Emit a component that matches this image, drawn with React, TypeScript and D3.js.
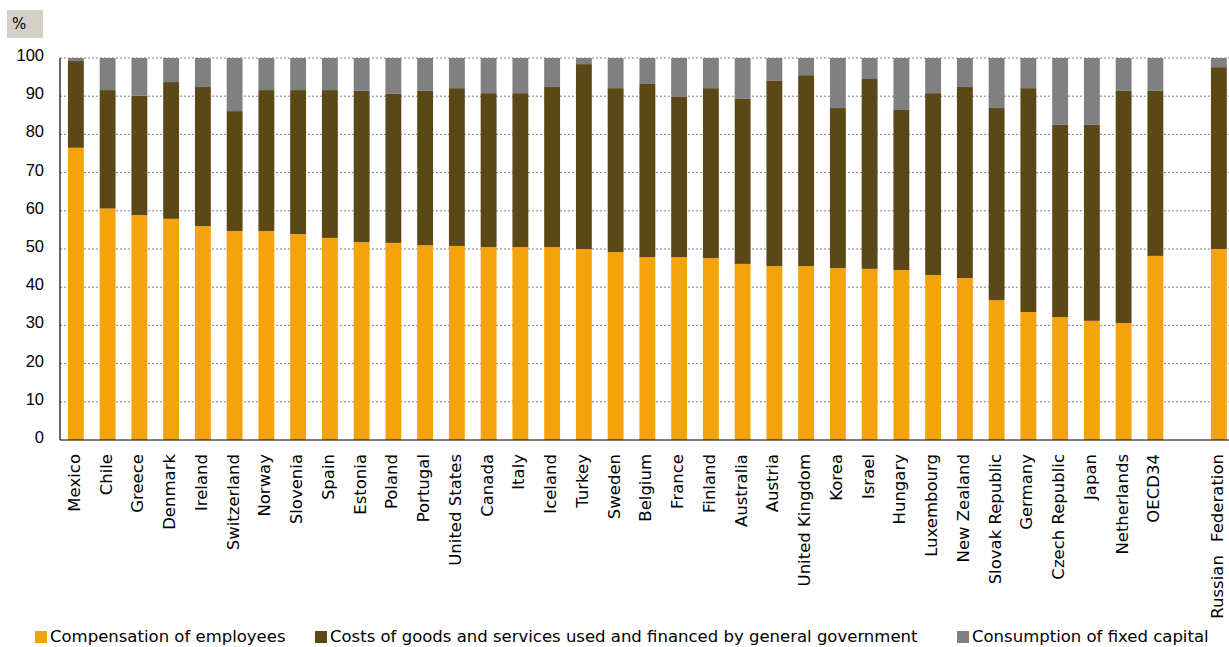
import React from "react";
import * as d3 from "d3";

const categories = [
  "Mexico", "Chile", "Greece", "Denmark", "Ireland", "Switzerland", "Norway", "Slovenia",
  "Spain", "Estonia", "Poland", "Portugal", "United States", "Canada", "Italy", "Iceland",
  "Turkey", "Sweden", "Belgium", "France", "Finland", "Australia", "Austria",
  "United Kingdom", "Korea", "Israel", "Hungary", "Luxembourg", "New Zealand",
  "Slovak Republic", "Germany", "Czech Republic", "Japan", "Netherlands", "OECD34",
  "Russian Federation",
];

const compensation = [
  76.5, 60.6, 58.9, 57.9, 56.0, 54.7, 54.7, 53.9, 52.9, 51.8, 51.6, 51.0, 50.8, 50.5, 50.5, 50.5,
  50.0, 49.2, 47.9, 47.9, 47.6, 46.1, 45.5, 45.5, 45.0, 44.8, 44.5, 43.2, 42.4, 36.6, 33.5, 32.2,
  31.2, 30.6, 48.2, 50.0,
];

const goodsServices = [
  22.7, 31.0, 31.2, 35.8, 36.4, 31.4, 36.9, 37.7, 38.7, 39.6, 39.0, 40.4, 41.3, 40.3, 40.3, 41.9,
  48.4, 42.9, 45.3, 41.9, 44.5, 43.2, 48.5, 50.0, 41.9, 49.7, 41.9, 47.6, 50.0, 50.3, 58.6, 50.3,
  51.3, 60.8, 43.2, 47.6,
];

const fixedCapital = [
  0.8, 8.4, 9.9, 6.3, 7.6, 13.9, 8.4, 8.4, 8.4, 8.6, 9.4, 8.6, 7.9, 9.2, 9.2, 7.6,
  1.6, 7.9, 6.8, 10.2, 7.9, 10.7, 6.0, 4.5, 13.1, 5.5, 13.6, 9.2, 7.6, 13.1, 7.9, 17.5,
  17.5, 8.6, 8.6, 2.4,
];

const seriesNames = [
  "Compensation of employees",
  "Costs of goods and services used and financed by general government",
  "Consumption of fixed capital",
];
const seriesColors = ["#F5A30B", "#5C4716", "#808080"];
const yTicks = [0, 10, 20, 30, 40, 50, 60, 70, 80, 90, 100];
const GAP = "__gap__";

export default function App() {
  const W = 1229;
  const H = 647;
  const left = 60;
  const step = 31.75;
  const domain = [...categories.slice(0, 35), GAP, categories[35]];
  const x = d3
    .scaleBand<string>()
    .domain(domain)
    .range([left, left + step * domain.length])
    .paddingInner(0.5)
    .paddingOuter(0.25);
  const y = d3.scaleLinear().domain([0, 100]).range([440, 58]);

  const rows = categories.map((c, i) => ({
    cat: c,
    s0: compensation[i],
    s1: goodsServices[i],
    s2: fixedCapital[i],
  }));
  const stack = d3.stack<any>().keys(["s0", "s1", "s2"]);
  const layers = stack(rows);

  const font = "'DejaVu Sans', sans-serif";

  const renderLabel = (c: string) => {
    if (c === "Russian Federation") {
      const parts = c.split(" ");
      return (
        <>
          <tspan>{parts[0]}</tspan>
          <tspan dx={8}>{" " + parts[1]}</tspan>
        </>
      );
    }
    return c;
  };

  return (
    <svg
      width={W}
      height={H}
      style={{ position: "absolute", left: 0, top: 0, background: "#fff" }}
      fontFamily={font}
    >
      <rect x={0} y={0} width={W} height={H} fill="#fff" />
      {/* % box */}
      <rect x={7} y={10} width={36} height={28} fill="#D4D0C8" />
      <text x={12} y={29} fontSize={15} fill="#000">%</text>

      {/* gridlines */}
      {yTicks.filter((t) => t > 0).map((t) => (
        <line
          key={t}
          x1={left}
          x2={W}
          y1={y(t)}
          y2={y(t)}
          stroke="#808080"
          strokeWidth={1}
          strokeDasharray="2,2"
        />
      ))}

      {/* y tick labels */}
      {yTicks.map((t) => (
        <text
          key={t}
          x={44}
          y={y(t) + 3}
          textAnchor="end"
          fontSize={16.5}
          fontFamily="'Liberation Sans', Arial, sans-serif"
          fill="#000"
        >
          {t}
        </text>
      ))}

      {/* bars */}
      {layers.map((layer, li) => (
        <g key={li} fill={seriesColors[li]}>
          {layer.map((d: any, i: number) => {
            const xv = x(rows[i].cat)!;
            return (
              <rect
                key={i}
                x={xv}
                width={x.bandwidth()}
                y={y(d[1])}
                height={y(d[0]) - y(d[1])}
              />
            );
          })}
        </g>
      ))}

      {/* axes */}
      <line x1={left} x2={left} y1={y(100)} y2={y(0)} stroke="#000" strokeWidth={1.2} />
      <line x1={left} x2={W} y1={y(0)} y2={y(0)} stroke="#000" strokeWidth={1.2} />

      {/* x labels */}
      {categories.map((c) => {
        const cx = x(c)! + x.bandwidth() / 2;
        return (
          <text
            key={c}
            transform={`translate(${cx + 4},454) rotate(-90)`}
            textAnchor="end"
            fontSize={16.5}
            fill="#000"
          >
            {renderLabel(c)}
          </text>
        );
      })}

      {/* legend */}
      {(() => {
        const starts = [35, 315, 957];
        return seriesNames.map((n, i) => (
          <g key={n}>
            <rect x={starts[i]} y={631} width={12} height={12} fill={seriesColors[i]} />
            <text x={starts[i] + 15} y={642} fontSize={16.5} fill="#000">
              {n}
            </text>
          </g>
        ));
      })()}
    </svg>
  );
}
